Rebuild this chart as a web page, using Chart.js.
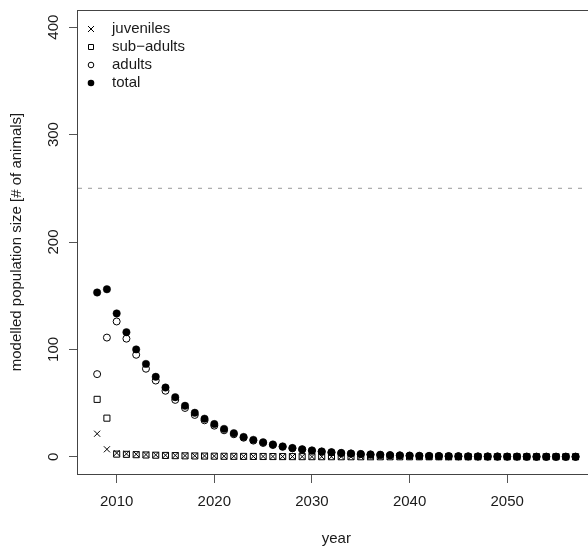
<!DOCTYPE html>
<html>
<head>
<meta charset="utf-8">
<script src="https://cdn.jsdelivr.net/npm/chart.js@4/dist/chart.umd.min.js"></script>
<style>
  html, body { margin: 0; padding: 0; background: #fff; overflow: hidden; }
  #wrap { width: 600px; height: 546px; }
</style>
</head>
<body>
<div id="wrap"><canvas id="popChart" width="600" height="546"></canvas></div>
<script>
// years modelled
const years = [
  2008, 2009, 2010, 2011, 2012, 2013, 2014, 2015, 2016, 2017,
  2018, 2019, 2020, 2021, 2022, 2023, 2024, 2025, 2026, 2027,
  2028, 2029, 2030, 2031, 2032, 2033, 2034, 2035, 2036, 2037,
  2038, 2039, 2040, 2041, 2042, 2043, 2044, 2045, 2046, 2047,
  2048, 2049, 2050, 2051, 2052, 2053, 2054, 2055, 2056, 2057
];

const juveniles = [
  21.5, 7, 3.5, 2.8, 2.4, 2.1, 1.8, 1.5, 1.3, 1.1,
  1.0, 0.8, 0.7, 0.6, 0.5, 0.45, 0.4, 0.35, 0.3, 0.25,
  0.2, 0.18, 0.15, 0.13, 0.11, 0.1, 0.08, 0.07, 0.06, 0.05,
  0.04, 0.04, 0.03, 0.03, 0.02, 0.02, 0.02, 0.01, 0.01, 0.01,
  0, 0, 0, 0, 0, 0, 0, 0, 0, 0
];

const subAdults = [
  53.5, 36, 2.5, 2.3, 2.0, 1.7, 1.5, 1.3, 1.1, 0.9,
  0.8, 0.7, 0.6, 0.5, 0.45, 0.4, 0.35, 0.3, 0.25, 0.2,
  0.18, 0.15, 0.13, 0.11, 0.1, 0.08, 0.07, 0.06, 0.05, 0.04,
  0.04, 0.03, 0.03, 0.02, 0.02, 0.02, 0.01, 0.01, 0.01, 0.01,
  0, 0, 0, 0, 0, 0, 0, 0, 0, 0
];

const adults = [
  77, 111, 126, 110, 95, 82, 71, 61.5, 53, 45.5,
  39, 34, 29, 24.7, 21, 17.8, 15.1, 12.9, 11, 9.3,
  7.9, 6.7, 5.7, 4.8, 4.1, 3.5, 3, 2.5, 2.1, 1.8,
  1.5, 1.3, 1.1, 0.9, 0.8, 0.7, 0.6, 0.5, 0.4, 0.35,
  0.3, 0.25, 0.2, 0.2, 0.15, 0.1, 0.1, 0.1, 0.1, 0.1
];

const total = [
  153, 156, 133.5, 116, 100, 86.5, 74.5, 64.5, 55.5, 47.5,
  41, 35.5, 30.5, 26, 22, 18.5, 15.8, 13.5, 11.5, 9.7,
  8.2, 7, 6, 5, 4.3, 3.6, 3.1, 2.6, 2.2, 1.9,
  1.6, 1.3, 1.1, 0.9, 0.8, 0.7, 0.6, 0.5, 0.4, 0.35,
  0.3, 0.25, 0.2, 0.2, 0.15, 0.1, 0.1, 0.1, 0.1, 0.1
];

const threshold = 250;
const xTickValues = [2010, 2020, 2030, 2040, 2050];
const yTickValues = [0, 100, 200, 300, 400];
const xRange = [2006.04, 2058.96];
const yRange = [-16, 416];

const FONT = 'Liberation Sans, Arial, Helvetica, sans-serif';
const TEXT = '#1a1a1a';
const AXIS = '#555';

const toPoints = arr => years.map((yr, i) => ({ x: yr, y: arr[i] }));

// R-style legend, top left inside the plot box
const boxLegend = {
  id: 'boxLegend',
  afterDatasetsDraw(chart) {
    const { ctx, chartArea } = chart;
    const items = chart.data.datasets.filter(d => d.inLegend);
    ctx.save();
    ctx.font = '15px ' + FONT;
    ctx.textBaseline = 'middle';
    ctx.textAlign = 'left';
    items.forEach((d, i) => {
      const cx = chartArea.left + 13;
      const cy = chartArea.top + 19 + i * 18;
      ctx.strokeStyle = '#000';
      ctx.fillStyle = '#000';
      ctx.lineWidth = 1;
      ctx.beginPath();
      if (d.pointStyle === 'crossRot') {
        ctx.moveTo(cx - 3, cy - 3); ctx.lineTo(cx + 3, cy + 3);
        ctx.moveTo(cx - 3, cy + 3); ctx.lineTo(cx + 3, cy - 3);
        ctx.stroke();
      } else if (d.pointStyle === 'rect') {
        ctx.rect(cx - 2.5, cy - 2.5, 5, 5);
        ctx.stroke();
      } else if (d.backgroundColor === '#000') {
        ctx.arc(cx, cy, 3.3, 0, Math.PI * 2);
        ctx.fill();
      } else {
        ctx.arc(cx, cy, 2.8, 0, Math.PI * 2);
        ctx.stroke();
      }
      ctx.fillStyle = TEXT;
      ctx.fillText(d.label, chartArea.left + 34, cy);
    });
    ctx.restore();
  }
};

const plotBox = {
  id: 'plotBox',
  beforeDatasetsDraw(chart) {
    const { ctx, chartArea } = chart;
    ctx.save();
    ctx.strokeStyle = '#444';
    ctx.lineWidth = 1;
    ctx.strokeRect(chartArea.left - 0.5, chartArea.top + 0.5,
      chartArea.right - chartArea.left, chartArea.bottom - chartArea.top);
    ctx.restore();
  }
};

const ctx = document.getElementById('popChart').getContext('2d');
new Chart(ctx, {
  type: 'scatter',
  data: {
    datasets: [
      {
        label: 'juveniles', inLegend: true, data: toPoints(juveniles), order: 4,
        pointStyle: 'crossRot', pointRadius: 4.3, borderColor: '#000', borderWidth: 1,
        backgroundColor: 'transparent'
      },
      {
        label: 'sub\u2212adults', inLegend: true, data: toPoints(subAdults), order: 3,
        pointStyle: 'rect', pointRadius: 4.3, borderColor: '#000', borderWidth: 1,
        backgroundColor: 'transparent'
      },
      {
        label: 'adults', inLegend: true, data: toPoints(adults), order: 2,
        pointStyle: 'circle', pointRadius: 3.5, borderColor: '#000', borderWidth: 1,
        backgroundColor: 'transparent'
      },
      {
        label: 'total', inLegend: true, data: toPoints(total), order: 1,
        pointStyle: 'circle', pointRadius: 3.7, borderColor: '#000', borderWidth: 0.5,
        backgroundColor: '#000'
      },
      {
        label: 'threshold', inLegend: false, type: 'line', order: 5,
        data: [{ x: xRange[0], y: threshold }, { x: xRange[1], y: threshold }],
        borderColor: '#999', borderWidth: 1, borderDash: [4, 6], pointRadius: 0
      }
    ]
  },
  options: {
    responsive: false,
    animation: false,
    devicePixelRatio: 1,
    layout: { padding: { top: 10, right: 5, left: 0, bottom: 0 } },
    plugins: { legend: { display: false }, tooltip: { enabled: false } },
    scales: {
      x: {
        type: 'linear',
        min: xRange[0], max: xRange[1],
        afterBuildTicks: s => { s.ticks = xTickValues.map(v => ({ value: v })); },
        afterFit: s => { s.height = 72; s.paddingLeft = 0; s.paddingRight = 0; },
        border: { display: false },
        grid: { drawOnChartArea: false, drawTicks: true, tickLength: 9, color: AXIS },
        ticks: {
          padding: 10, color: TEXT, font: { family: FONT, size: 15 },
          maxRotation: 0, callback: v => String(v)
        },
        title: {
          display: true, text: 'year', color: TEXT,
          font: { family: FONT, size: 15 }, padding: { top: 0, bottom: -2 }
        }
      },
      y: {
        type: 'linear',
        min: yRange[0], max: yRange[1],
        afterBuildTicks: s => { s.ticks = yTickValues.map(v => ({ value: v })); },
        afterFit: s => { s.width = 78; s.paddingTop = 0; s.paddingBottom = 0; },
        border: { display: false },
        grid: { drawOnChartArea: false, drawTicks: true, tickLength: 9, color: AXIS },
        ticks: {
          padding: 2.5, color: TEXT, font: { family: FONT, size: 15 },
          minRotation: 90, maxRotation: 90, crossAlign: 'center',
          callback: v => String(v)
        },
        title: {
          display: true, text: 'modelled population size [# of animals]', color: TEXT,
          font: { family: FONT, size: 15 }, padding: { top: 8, bottom: 0 }
        }
      }
    }
  },
  plugins: [plotBox, boxLegend]
});
</script>
</body>
</html>
